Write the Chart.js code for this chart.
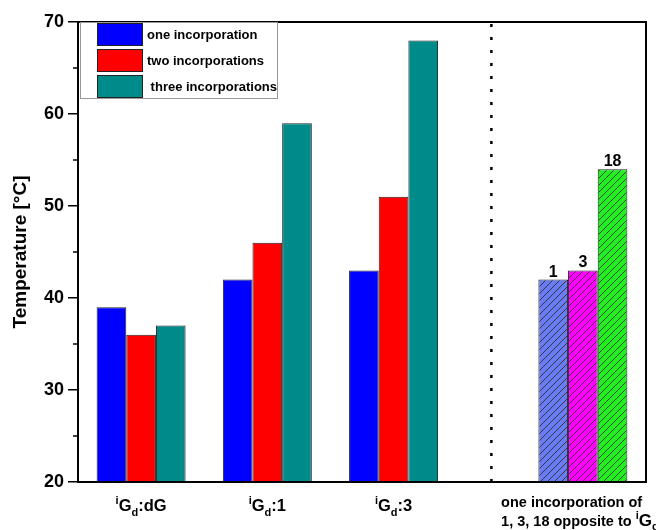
<!DOCTYPE html>
<html>
<head>
<meta charset="utf-8">
<script src="https://cdn.jsdelivr.net/npm/chart.js@4.4.0/dist/chart.umd.min.js"></script>
<style>
    html, body { margin: 0; padding: 0; background: #fff; }
</style>
</head>
<body>
<canvas id="meltChart" width="656" height="530"></canvas>
<script>
// group labels: ^x = superscript char, _x = subscript char, *x = enlarged char
const groupLabels = ["^iG_d:dG", "^iG_d:1", "^iG_d:3", ["one incorporation of", "1, 3, 18 opposite to ^i*G_d"]];
const groupPos = [1, 3, 5, 8];
const oneIncorp = [39, 42, 43, null];
const twoIncorp = [36, 46, 51, null];
const threeIncorp = [37, 59, 68, null];
const mod1 = [null, null, null, 42];
const mod3 = [null, null, null, 43];
const mod18 = [null, null, null, 54];
const modLabels = ["1", "3", "18"];
const yTicks = [20, 30, 40, 50, 60, 70];
const yMinorTicks = [25, 35, 45, 55, 65];
const separatorAt = 6.55;

const FONT = "'Liberation Sans', Arial, sans-serif";
Chart.defaults.font.family = FONT;

function toPoints(values) {
    return groupPos.map((x, i) => ({ x: x, y: values[i] }));
}

function hatch(color) {
    const c = document.createElement("canvas");
    c.width = 7;
    c.height = 7;
    const g = c.getContext("2d");
    g.fillStyle = color;
    g.fillRect(0, 0, 7, 7);
    g.strokeStyle = "#222";
    g.lineWidth = 0.8;
    g.beginPath();
    g.moveTo(0, 7); g.lineTo(7, 0);
    g.moveTo(-1, 1); g.lineTo(1, -1);
    g.moveTo(6, 8); g.lineTo(8, 6);
    g.stroke();
    return g.createPattern(c, "repeat");
}

function richParts(text) {
    const parts = [];
    for (let i = 0; i < text.length; i++) {
        const c = text[i];
        if ((c === "^" || c === "_" || c === "*") && i + 1 < text.length) {
            parts.push({ t: text[i + 1], k: c });
            i++;
        } else if (parts.length && parts[parts.length - 1].k === "") {
            parts[parts.length - 1].t += c;
        } else {
            parts.push({ t: c, k: "" });
        }
    }
    return parts;
}

function partSize(p, size, small) {
    if (p.k === "*") return size + 2.5;
    return p.k ? small : size;
}

function richWidth(ctx, text, size, small) {
    let w = 0;
    richParts(text).forEach((p) => {
        ctx.font = "bold " + partSize(p, size, small) + "px " + FONT;
        w += ctx.measureText(p.t).width;
    });
    return w;
}

function drawRich(ctx, text, x, y, size, small) {
    richParts(text).forEach((p) => {
        ctx.font = "bold " + partSize(p, size, small) + "px " + FONT;
        let dy = 0;
        if (p.k === "^") dy = -size * 0.45;
        if (p.k === "_") dy = size * 0.3;
        ctx.fillText(p.t, x, y + dy);
        x += ctx.measureText(p.t).width;
    });
}

const decorPlugin = {
    id: "decor",
    afterDatasetsDraw(chart) {
        const ctx = chart.ctx;
        const area = chart.chartArea;
        const xs = chart.scales.x;
        const ys = chart.scales.y;
        ctx.save();

        // dotted separator
        const sx = xs.getPixelForValue(separatorAt);
        ctx.strokeStyle = "#000";
        ctx.lineWidth = 2.5;
        ctx.setLineDash([3, 10]);
        ctx.beginPath();
        ctx.moveTo(sx, area.top + 2);
        ctx.lineTo(sx, area.bottom);
        ctx.stroke();
        ctx.setLineDash([]);

        // labels over the hatched bars
        ctx.fillStyle = "#000";
        ctx.textAlign = "center";
        ctx.textBaseline = "alphabetic";
        ctx.font = "bold 16px " + FONT;
        [3, 4, 5].forEach((di, k) => {
            const bar = chart.getDatasetMeta(di).data[3];
            ctx.fillText(modLabels[k], bar.x, bar.y - 3);
        });

        // minor y ticks
        ctx.lineWidth = 1.5;
        ctx.beginPath();
        yMinorTicks.forEach((v) => {
            const y = ys.getPixelForValue(v);
            ctx.moveTo(area.left - 5, y);
            ctx.lineTo(area.left, y);
        });
        ctx.stroke();

        // frame
        ctx.lineWidth = 2;
        ctx.strokeRect(area.left, area.top, area.right - area.left, area.bottom - area.top);

        // legend
        const lx = area.left + 2;
        const ly = area.top;
        ctx.fillStyle = "#fff";
        ctx.fillRect(lx, ly + 1, 197, 75);
        ctx.strokeStyle = "#999";
        ctx.lineWidth = 1;
        ctx.strokeRect(lx + 0.5, ly + 0.5, 197, 76);
        ctx.textAlign = "left";
        ctx.font = "bold 13px " + FONT;
        [0, 1, 2].forEach((di) => {
            const ds = chart.data.datasets[di];
            const ry = ly + 1 + di * 26;
            ctx.fillStyle = ds.backgroundColor;
            ctx.fillRect(lx + 17, ry, 46, 23);
            ctx.strokeStyle = "#222";
            ctx.strokeRect(lx + 17.5, ry + 0.5, 45, 22);
            ctx.fillStyle = "#000";
            ctx.fillText(ds.label, lx + 67, ry + 16);
        });

        // x labels
        ctx.fillStyle = "#000";
        groupLabels.forEach((lab, i) => {
            const cx = xs.getPixelForValue(groupPos[i]);
            if (Array.isArray(lab)) {
                const widths = lab.map((t) => richWidth(ctx, t, 14.5, 11));
                const left = cx - Math.max.apply(null, widths) / 2 - 3;
                lab.forEach((t, j) => drawRich(ctx, t, left, area.bottom + 25 + j * 19, 14.5, 11));
            } else {
                const w = richWidth(ctx, lab, 16.5, 11);
                drawRich(ctx, lab, cx - w / 2, area.bottom + 29, 16.5, 11);
            }
        });

        ctx.restore();
    },
};

const barStyle = {
    borderColor: "#222",
    borderWidth: 1,
    categoryPercentage: 0.705,
    barPercentage: 1,
    skipNull: true,
};

new Chart(document.getElementById("meltChart"), {
    type: "bar",
    data: {
        datasets: [
            Object.assign({ label: "one incorporation", data: toPoints(oneIncorp), backgroundColor: "#0000ff" }, barStyle),
            Object.assign({ label: "two incorporations", data: toPoints(twoIncorp), backgroundColor: "#ff0000" }, barStyle),
            Object.assign({ label: " three incorporations", data: toPoints(threeIncorp), backgroundColor: "#008b8b" }, barStyle),
            Object.assign({ label: "1", data: toPoints(mod1), backgroundColor: hatch("#6a7cf2") }, barStyle),
            Object.assign({ label: "3", data: toPoints(mod3), backgroundColor: hatch("#ff00ff") }, barStyle),
            Object.assign({ label: "18", data: toPoints(mod18), backgroundColor: hatch("#22ee22") }, barStyle),
        ],
    },
    options: {
        responsive: false,
        animation: false,
        layout: {
            padding: { top: 22, right: 10, left: 0, bottom: 0 },
        },
        plugins: {
            legend: { display: false },
            tooltip: { enabled: false },
        },
        scales: {
            x: {
                type: "linear",
                offset: false,
                min: 0,
                max: 9,
                afterBuildTicks: (s) => {
                    s.ticks = groupPos.map((v) => ({ value: v }));
                },
                ticks: { display: false },
                grid: { display: false, drawTicks: false, offset: false },
                border: { color: "#000", width: 2 },
                afterFit: (s) => {
                    s.height = 48;
                },
            },
            y: {
                min: 20,
                max: 70,
                afterBuildTicks: (s) => {
                    s.ticks = yTicks.map((v) => ({ value: v }));
                },
                ticks: {
                    color: "#000",
                    padding: 4,
                    font: { size: 18, weight: "bold" },
                },
                grid: {
                    drawOnChartArea: false,
                    tickLength: 10,
                    color: "#000",
                    lineWidth: 1.5,
                },
                border: { color: "#000", width: 2 },
                title: {
                    display: true,
                    text: "Temperature [°C]",
                    color: "#000",
                    font: { size: 19, weight: "bold" },
                    padding: { top: 9, bottom: 0 },
                },
                afterFit: (s) => {
                    s.width = 78;
                },
            },
        },
    },
    plugins: [decorPlugin],
});
</script>
</body>
</html>
